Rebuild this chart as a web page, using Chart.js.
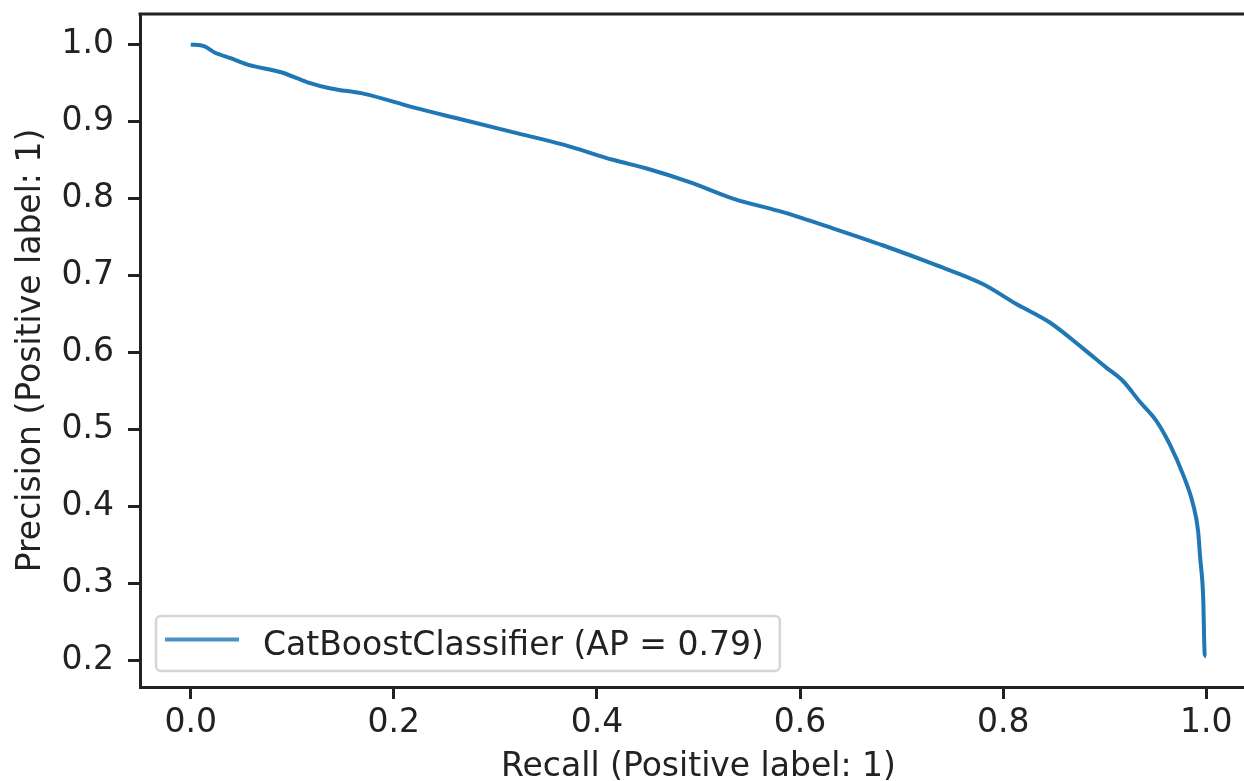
<!DOCTYPE html>
<html>
<head>
<meta charset="utf-8">
<script src="https://cdn.jsdelivr.net/npm/chart.js"></script>
<style>
  html, body { margin: 0; padding: 0; background: #fff; overflow: hidden; }
  #wrap { width: 1262px; height: 800px; }
</style>
</head>
<body>
<div id="wrap"><canvas id="prChart" width="1262" height="800"></canvas></div>
<script>
// precision-recall curve
const recall = [0, 0.013, 0.023, 0.040, 0.056, 0.089, 0.115, 0.138, 0.171, 0.220, 0.269, 0.318, 0.367,
    0.4165, 0.449, 0.492, 0.534, 0.584, 0.633, 0.682, 0.731, 0.780, 0.813, 0.846, 0.878, 0.901,
    0.918, 0.934, 0.951, 0.964, 0.977, 0.987, 0.992, 0.994, 0.997, 0.9985, 1.0];
const precision = [1.0, 0.998, 0.990, 0.982, 0.974, 0.964, 0.951, 0.943, 0.936, 0.918, 0.902, 0.886, 0.870,
    0.850, 0.839, 0.821, 0.800, 0.782, 0.761, 0.739, 0.715, 0.689, 0.663, 0.639, 0.606, 0.581,
    0.563, 0.537, 0.511, 0.481, 0.442, 0.403, 0.368, 0.334, 0.282, 0.208, 0.2055];

const xTicks = [0, 0.2, 0.4, 0.6, 0.8, 1.0];
const xTickLabels = ['0.0', '0.2', '0.4', '0.6', '0.8', '1.0'];
const yTicks = [0.2, 0.3, 0.4, 0.5, 0.6, 0.7, 0.8, 0.9, 1.0];
const yTickLabels = ['0.2', '0.3', '0.4', '0.5', '0.6', '0.7', '0.8', '0.9', '1.0'];

const seriesLabel = 'CatBoostClassifier (AP = 0.79)';
const xTitle = 'Recall (Positive label: 1)';
const yTitle = 'Precision (Positive label: 1)';

const ink = '#222222';
const lineBlue = '#1f77b4';
const fontSize = 33;
const fontFamily = "'DejaVu Sans', 'Liberation Sans', sans-serif";

Chart.defaults.font.family = fontFamily;
Chart.defaults.font.size = fontSize;
Chart.defaults.color = ink;

// matplotlib draws a full box, chart.js only the left and bottom borders
const frame = {
    id: 'frame',
    afterDraw(chart) {
        const { ctx, chartArea: a } = chart;
        ctx.save();
        ctx.strokeStyle = ink;
        ctx.lineWidth = 3;
        ctx.beginPath();
        ctx.moveTo(a.left - 1.5, a.top);
        ctx.lineTo(a.right, a.top);
        ctx.lineTo(a.right, a.bottom);
        ctx.stroke();
        ctx.restore();
    }
};

// legend in the lower left corner, inside the axes
const cornerLegend = {
    id: 'cornerLegend',
    afterDraw(chart) {
        const { ctx, chartArea: a } = chart;
        const ds = chart.data.datasets[0];
        ctx.save();
        ctx.font = fontSize + 'px ' + fontFamily;
        const textW = ctx.measureText(ds.label).width;
        const left = a.left + 16;
        const bottom = a.bottom - 16;
        const h = 55;
        const top = bottom - h;
        const w = 107 + textW + 16;

        ctx.beginPath();
        ctx.roundRect(left, top, w, h, 5);
        ctx.fillStyle = 'rgba(255,255,255,0.8)';
        ctx.fill();
        ctx.strokeStyle = '#d5d5d5';
        ctx.lineWidth = 2.5;
        ctx.stroke();

        ctx.globalAlpha = 0.8;
        ctx.strokeStyle = ds.borderColor;
        ctx.lineWidth = 4;
        ctx.beginPath();
        ctx.moveTo(left + 9, top + 23.5);
        ctx.lineTo(left + 83, top + 23.5);
        ctx.stroke();
        ctx.globalAlpha = 1;

        ctx.fillStyle = ink;
        ctx.textBaseline = 'alphabetic';
        ctx.textAlign = 'left';
        ctx.fillText(ds.label, left + 107, top + 38.5);
        ctx.restore();
    }
};

const ctx = document.getElementById('prChart').getContext('2d');
const chart = new Chart(ctx, {
    type: 'line',
    data: {
        datasets: [{
            label: seriesLabel,
            data: recall.map((r, i) => ({ x: r, y: precision[i] })),
            borderColor: lineBlue,
            borderWidth: 4,
            pointRadius: 0,
            fill: false,
            cubicInterpolationMode: 'monotone',
        }]
    },
    options: {
        responsive: false,
        animation: false,
        layout: { padding: { top: 14, right: 5, left: 0, bottom: 0 } },
        plugins: {
            legend: { display: false },
            tooltip: { enabled: false },
        },
        scales: {
            x: {
                type: 'linear',
                min: -0.05,
                max: 1.05,
                afterBuildTicks: (scale) => { scale.ticks = xTicks.map(v => ({ value: v })); },
                afterFit: (scale) => {
                    scale.height = 113;
                    scale.paddingLeft = 0;
                    scale.paddingRight = 0;
                },
                ticks: {
                    padding: 5,
                    maxRotation: 0,
                    callback: (value, index) => xTickLabels[index],
                },
                grid: { drawOnChartArea: false, drawTicks: true, tickLength: 12, tickWidth: 3, tickColor: ink },
                border: { display: true, color: ink, width: 3 },
                title: { display: true, text: xTitle, padding: { top: 0, bottom: 13 } },
            },
            y: {
                type: 'linear',
                min: 0.1655,
                max: 1.0397,
                afterBuildTicks: (scale) => { scale.ticks = yTicks.map(v => ({ value: v })); },
                afterFit: (scale) => {
                    scale.width = 140;
                    scale.paddingTop = 0;
                    scale.paddingBottom = 0;
                },
                ticks: {
                    padding: 14,
                    callback: (value, index) => yTickLabels[index],
                },
                grid: { drawOnChartArea: false, drawTicks: true, tickLength: 12, tickWidth: 3, tickColor: ink },
                border: { display: true, color: ink, width: 3 },
                title: { display: true, text: yTitle, padding: { top: 12, bottom: 0 } },
            }
        }
    },
    plugins: [frame, cornerLegend]
});
</script>
</body>
</html>
